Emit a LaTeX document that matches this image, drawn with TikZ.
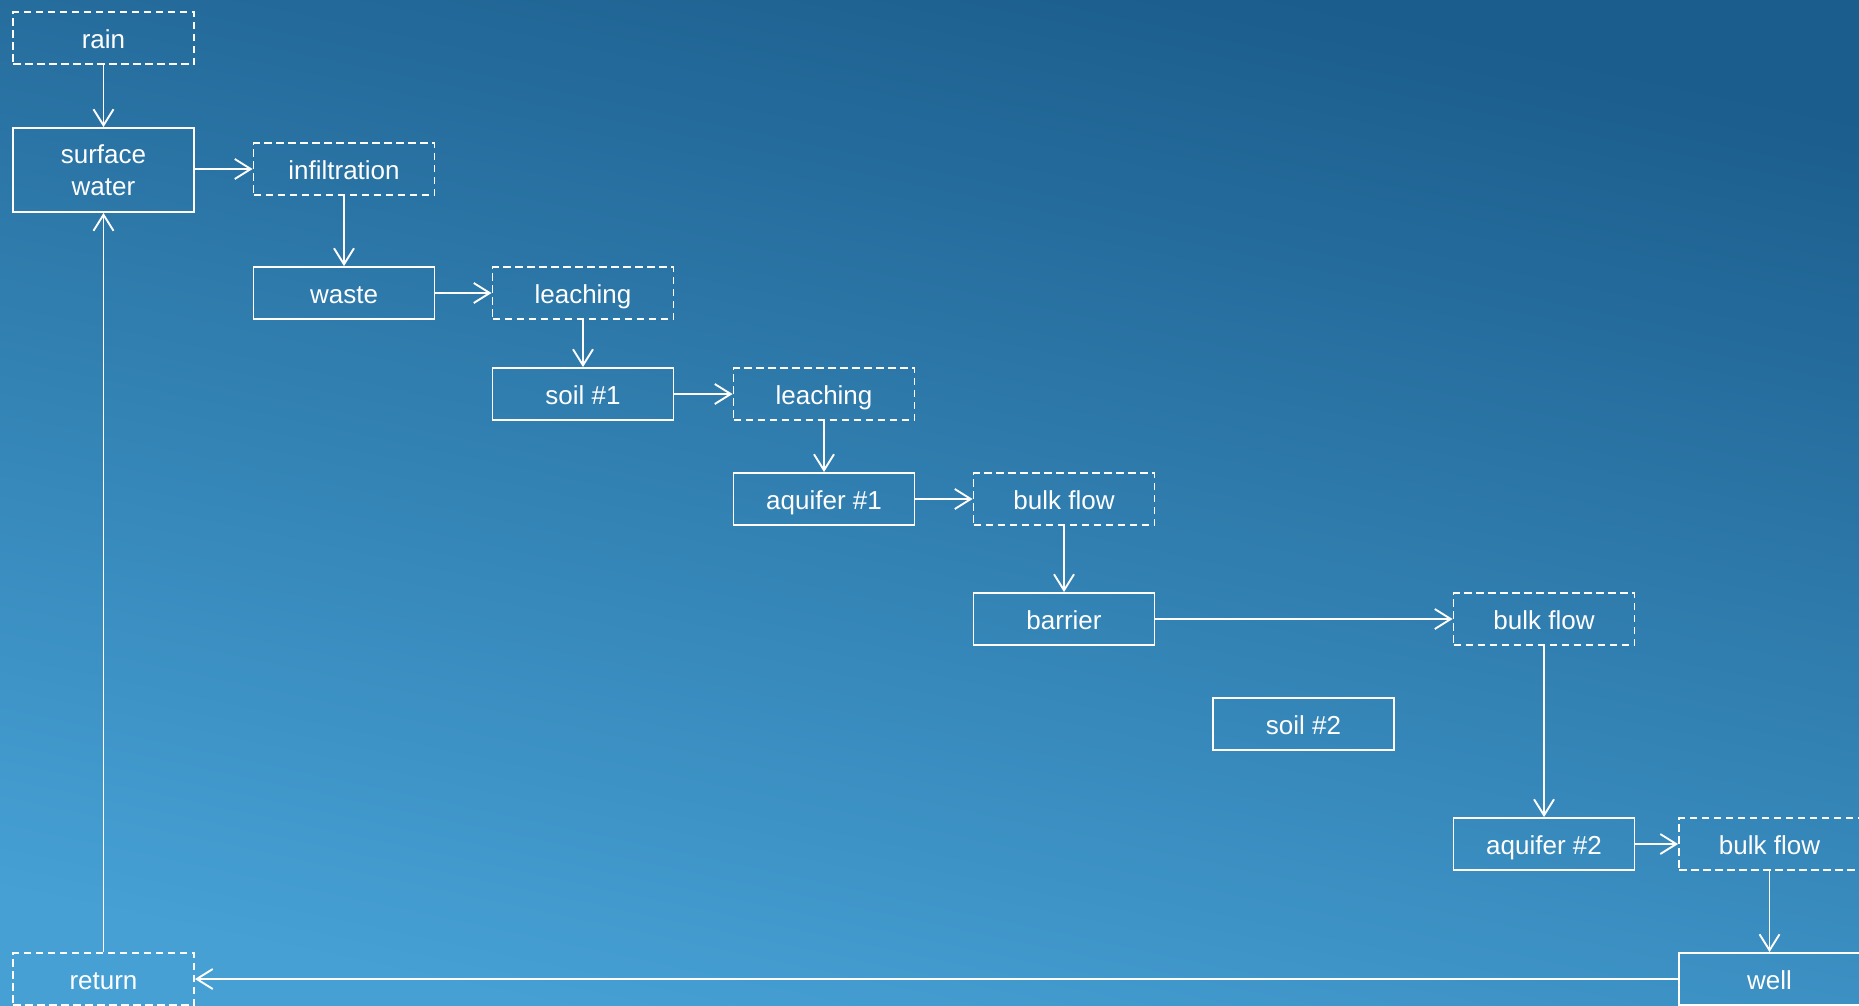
\documentclass[tikz,border=0pt]{standalone}
\usepackage{fontspec}
\setmainfont{Liberation Sans}
\usepackage{tikz}
\usetikzlibrary{arrows.meta}
\definecolor{bgtop}{RGB}{27,93,140}
\definecolor{bgbot}{RGB}{70,160,212}

\begin{document}
\begin{tikzpicture}[x=1pt, y=-1pt,
    box/.style={draw=white, line width=1.9pt, minimum width=181pt, minimum height=52pt,
        inner sep=0pt, align=center, text=white, text height=21pt, text depth=0pt,
        font=\fontsize{26}{32}\selectfont},
    procbox/.style={box, dash pattern=on 7.5pt off 4.5pt},
    flow/.style={draw=white, line width=1.9pt, -{Straight Barb[length=16pt,width=20pt]}}]
            \useasboundingbox (0, 0) rectangle (1859, 1005);
            \shade [top color=bgtop, bottom color=bgbot, shading angle=-12] (0, 0) rectangle (1859, 1005);

            \node [procbox] (rain) at (103.5, 38) {rain};
            \node [box, minimum height=84pt, text height=, text depth=] (surface) at (103.5, 170) {surface\\water};
            \node [procbox] (infil) at (344, 169) {infiltration};
            \node [box] (waste) at (344, 293) {waste};
            \node [procbox] (leachA) at (583, 293) {leaching};
            \node [box] (soilA) at (583, 394) {soil \#1};
            \node [procbox] (leachB) at (824, 394) {leaching};
            \node [box] (aquiferA) at (824, 499) {aquifer \#1};
            \node [procbox] (bulkA) at (1064, 499) {bulk flow};
            \node [box] (barrier) at (1064, 619) {barrier};
            \node [procbox] (bulkB) at (1544, 619) {bulk flow};
            \node [box] (soilB) at (1303.5, 724) {soil \#2};
            \node [box] (aquiferB) at (1544, 844) {aquifer \#2};
            \node [procbox] (bulkC) at (1769.5, 844) {bulk flow};
            \node [box] (well) at (1769.5, 979) {well};
            \node [procbox] (ret) at (103.5, 979) {return};

            \draw [flow] (rain) -- (surface);
            \draw [flow] (surface.east |- infil) -- (infil);
            \draw [flow] (infil) -- (waste);
            \draw [flow] (waste) -- (leachA);
            \draw [flow] (leachA) -- (soilA);
            \draw [flow] (soilA) -- (leachB);
            \draw [flow] (leachB) -- (aquiferA);
            \draw [flow] (aquiferA) -- (bulkA);
            \draw [flow] (bulkA) -- (barrier);
            \draw [flow] (barrier) -- (bulkB);
            \draw [flow] (bulkB) -- (aquiferB);
            \draw [flow] (aquiferB) -- (bulkC);
            \draw [flow] (bulkC) -- (well);
            \draw [flow] (well) -- (ret);
            \draw [flow] (ret) -- (surface);
        \end{tikzpicture}
\end{document}
